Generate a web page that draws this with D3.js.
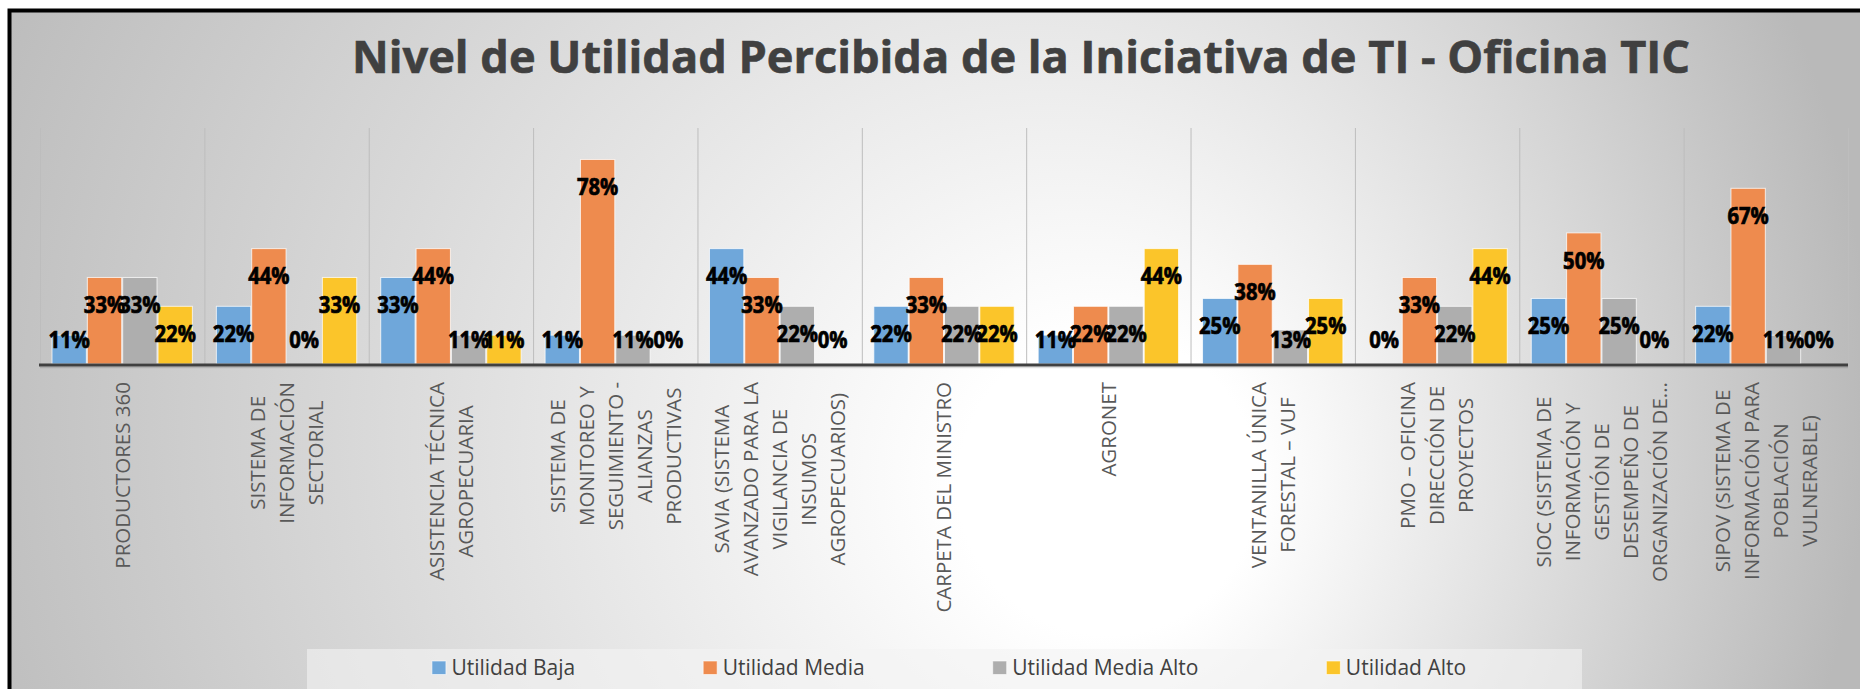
<!DOCTYPE html>
<html>
<head>
<meta charset="utf-8">
<script src="https://cdn.jsdelivr.net/npm/d3@7"></script>
<style>
  html, body { margin: 0; padding: 0; background: #ffffff; }
  svg { display: block; }
</style>
</head>
<body>
<svg id="chart" width="1860" height="689"></svg>
<script>
// ---------- DATA ----------
const categories = [
  "PRODUCTORES 360",
  "SISTEMA DE INFORMACIÓN SECTORIAL",
  "ASISTENCIA TÉCNICA AGROPECUARIA",
  "SISTEMA DE MONITOREO Y SEGUIMIENTO - ALIANZAS PRODUCTIVAS",
  "SAVIA (SISTEMA AVANZADO PARA LA VIGILANCIA DE INSUMOS AGROPECUARIOS)",
  "CARPETA DEL MINISTRO",
  "AGRONET",
  "VENTANILLA ÚNICA FORESTAL – VUF",
  "PMO – OFICINA DIRECCIÓN DE PROYECTOS",
  "SIOC (SISTEMA DE INFORMACIÓN Y GESTIÓN DE DESEMPEÑO DE ORGANIZACIÓN DE...",
  "SIPOV (SISTEMA DE INFORMACIÓN PARA POBLACIÓN VULNERABLE)"
];
const categoryLines = [
  ["PRODUCTORES 360"],
  ["SISTEMA DE", "INFORMACIÓN", "SECTORIAL"],
  ["ASISTENCIA TÉCNICA", "AGROPECUARIA"],
  ["SISTEMA DE", "MONITOREO Y", "SEGUIMIENTO -", "ALIANZAS", "PRODUCTIVAS"],
  ["SAVIA (SISTEMA", "AVANZADO PARA LA", "VIGILANCIA DE", "INSUMOS", "AGROPECUARIOS)"],
  ["CARPETA DEL MINISTRO"],
  ["AGRONET"],
  ["VENTANILLA ÚNICA", "FORESTAL – VUF"],
  ["PMO – OFICINA", "DIRECCIÓN DE", "PROYECTOS"],
  ["SIOC (SISTEMA DE", "INFORMACIÓN Y", "GESTIÓN DE", "DESEMPEÑO DE", "ORGANIZACIÓN DE..."],
  ["SIPOV (SISTEMA DE", "INFORMACIÓN PARA", "POBLACIÓN", "VULNERABLE)"]
];
const seriesNames = ["Utilidad Baja", "Utilidad Media", "Utilidad Media Alto", "Utilidad Alto"];
const utilidadBaja      = [0.11, 0.22, 0.33, 0.11, 0.44, 0.22, 0.11, 0.25, 0.00, 0.25, 0.22];
const utilidadMedia     = [0.33, 0.44, 0.44, 0.78, 0.33, 0.33, 0.22, 0.38, 0.33, 0.50, 0.67];
const utilidadMediaAlto = [0.33, 0.00, 0.11, 0.11, 0.22, 0.22, 0.22, 0.13, 0.22, 0.25, 0.11];
const utilidadAlto      = [0.22, 0.33, 0.11, 0.00, 0.00, 0.22, 0.44, 0.25, 0.44, 0.00, 0.00];
const seriesColors = ["#6FA7DA", "#EE8B4E", "#AEAEAE", "#FBC52A"];
const titleText = "Nivel de Utilidad Percibida de la Iniciativa de TI - Oficina TIC";

const seriesValues = [utilidadBaja, utilidadMedia, utilidadMediaAlto, utilidadAlto];

// ---------- SETUP ----------
const svg = d3.select("#chart");
const defs = svg.append("defs");

const grad = defs.append("radialGradient")
  .attr("id", "bg")
  .attr("gradientUnits", "userSpaceOnUse")
  .attr("cx", 870).attr("cy", 400).attr("r", 1000)
  .attr("fx", 1150).attr("fy", 500);
grad.append("stop").attr("offset", "0").attr("stop-color", "#ffffff");
grad.append("stop").attr("offset", "0.15").attr("stop-color", "#ffffff");
grad.append("stop").attr("offset", "1").attr("stop-color", "#b9b9b9");

svg.append("rect").attr("x", 9.5).attr("y", 10.5).attr("width", 2000).attr("height", 800)
  .attr("fill", "url(#bg)");
svg.append("rect").attr("x", 9.5).attr("y", 10.5).attr("width", 2000).attr("height", 800)
  .attr("fill", "none").attr("stroke", "#000").attr("stroke-width", 4);

// ---------- TITLE ----------
svg.append("text")
  .attr("x", 352).attr("y", 73)
  .attr("font-family", "'Open Sans', sans-serif")
  .attr("font-weight", 700)
  .attr("font-size", 44)
  .attr("fill", "#404040")
  .attr("stroke", "#404040")
  .attr("stroke-width", 0.6)
  .attr("textLength", 1338)
  .attr("lengthAdjust", "spacingAndGlyphs")
  .text(titleText);

// ---------- SCALES ----------
const plotLeft = 40, plotRight = 1848, plotTop = 128, plotBottom = 364;
const x0 = d3.scaleBand().domain(categories).range([plotLeft, plotRight]).padding(0);
const groupPad = 11.5;
const x1 = d3.scaleBand().domain(seriesNames).range([groupPad, x0.bandwidth() - groupPad]).padding(0);
const y = d3.scaleLinear().domain([0, 0.9]).range([plotBottom, plotTop]);

// ---------- GRID (category separators) ----------
const sepPositions = categories.map(c => x0(c)).concat([plotRight]);
svg.append("g").selectAll("line").data(sepPositions).join("line")
  .attr("x1", d => d + 0.5).attr("x2", d => d + 0.5)
  .attr("y1", plotTop).attr("y2", plotBottom)
  .attr("stroke", "#bdbdbd").attr("stroke-width", 1);

// ---------- BARS ----------
const flat = [];
categories.forEach((c, ci) => {
  seriesNames.forEach((s, si) => {
    flat.push({cat: c, ser: s, si, value: seriesValues[si][ci]});
  });
});

svg.append("g").selectAll("rect").data(flat.filter(d => d.value > 0)).join("rect")
  .attr("x", d => x0(d.cat) + x1(d.ser) + 0.5)
  .attr("width", x1.bandwidth() - 1)
  .attr("y", d => y(d.value))
  .attr("height", d => plotBottom - y(d.value))
  .attr("fill", d => seriesColors[d.si])
  .attr("stroke", "rgba(255,255,255,0.75)")
  .attr("stroke-width", 1);

// ---------- AXIS LINE ----------
const xAxis = d3.axisBottom(x0).tickSize(0).tickFormat("");
const axG = svg.append("g").attr("transform", `translate(0,${plotBottom + 1})`).call(xAxis);
axG.select(".domain").attr("stroke", "#404040").attr("stroke-width", 3)
  .attr("d", `M${plotLeft - 1},0H${plotRight}`);
svg.append("line").attr("x1", plotLeft).attr("x2", plotRight)
  .attr("y1", plotBottom + 3.5).attr("y2", plotBottom + 3.5)
  .attr("stroke", "rgba(0,0,0,0.12)").attr("stroke-width", 1.5);

// ---------- DATA LABELS ----------
const fmt = d3.format(".0%");
const labelSize = 23;
const lbl = svg.append("g").selectAll("text").data(flat).join("text")
  .attr("x", d => x0(d.cat) + x1(d.ser) + x1.bandwidth() / 2)
  .attr("y", d => Math.min(y(d.value) + 27.5, 339.5))
  .attr("dy", "0.357em")
  .attr("text-anchor", "middle")
  .attr("font-family", "'Open Sans', sans-serif")
  .attr("font-weight", 700)
  .attr("font-size", labelSize)
  .attr("fill", "#000")
  .attr("stroke", "#000")
  .attr("stroke-width", 0.7)
  .text(d => fmt(d.value));
lbl.each(function() {
  const w = this.getComputedTextLength();
  d3.select(this).attr("textLength", w * 0.88).attr("lengthAdjust", "spacingAndGlyphs");
});

// ---------- CATEGORY LABELS ----------
const catSize = 20.5;
const lineStep = 29;
const labelTop = 382;
const catG = svg.append("g");
categories.forEach((c, ci) => {
  const lines = categoryLines[ci];
  const cx = x0(c) + x0.bandwidth() / 2;
  const g = catG.append("g");
  const texts = lines.map(ln => g.append("text")
    .attr("font-family", "'Open Sans', sans-serif")
    .attr("font-size", catSize)
    .attr("fill", "#595959")
    .attr("text-anchor", "middle")
    .text(ln));
  const maxLen = d3.max(texts, t => t.node().getComputedTextLength());
  const yc = labelTop + maxLen / 2;
  texts.forEach((t, li) => {
    const colX = cx + (li - (lines.length - 1) / 2) * lineStep + catSize * 0.357;
    t.attr("transform", `translate(${colX},${yc}) rotate(-90)`);
  });
});

// ---------- LEGEND ----------
svg.append("rect").attr("x", 307).attr("y", 649).attr("width", 1275).attr("height", 60)
  .attr("fill", "#f4f4f4").attr("fill-opacity", 0.6);

const legSize = 21;
const legG = svg.append("g");
const items = seriesNames.map((s, i) => {
  const g = legG.append("g");
  g.append("rect").attr("x", 0).attr("y", -13.5).attr("width", 14).attr("height", 13.5)
    .attr("fill", seriesColors[i]).attr("stroke", "rgba(255,255,255,0.6)").attr("stroke-width", 1);
  const t = g.append("text").attr("x", 19.5).attr("y", 0)
    .attr("font-family", "'Open Sans', sans-serif")
    .attr("font-size", legSize).attr("fill", "#404040").text(s);
  return {g, w: 19.5 + t.node().getComputedTextLength()};
});
const legGap = 128;
const totalW = d3.sum(items, d => d.w) + legGap * (items.length - 1);
let lx = 949 - totalW / 2;
items.forEach(it => {
  it.g.attr("transform", `translate(${lx},674.5)`);
  lx += it.w + legGap;
});
</script>
</body>
</html>
